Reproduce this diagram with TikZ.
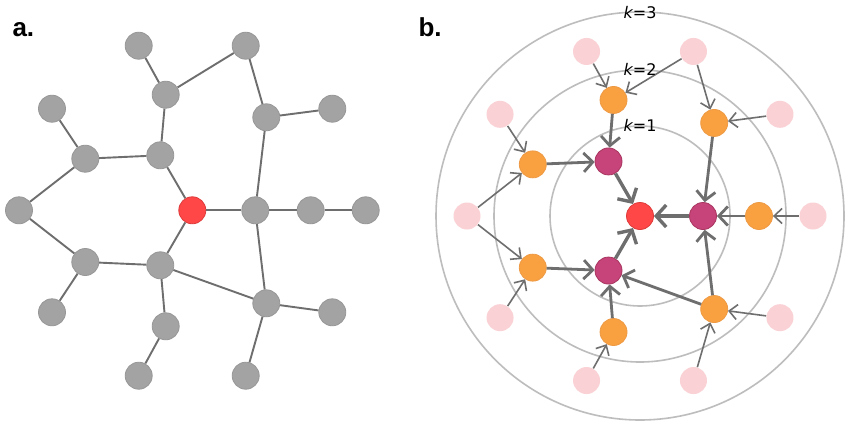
\documentclass[tikz,border=0pt]{standalone}
\usepackage{fontspec}
\setmainfont{DejaVu Sans}
\newfontfamily\arialfont{Liberation Sans}
\usetikzlibrary{arrows.meta}
\definecolor{gnode}{HTML}{A3A3A3}
\definecolor{gborder}{HTML}{979797}
\definecolor{edgec}{HTML}{6E6E6E}
\definecolor{rfill}{HTML}{FF4747}
\definecolor{rborder}{HTML}{DE3A3A}
\definecolor{pfill}{HTML}{C64479}
\definecolor{pborder}{HTML}{A8355F}
\definecolor{ofill}{HTML}{F9A140}
\definecolor{oborder}{HTML}{EE9A45}
\definecolor{kfill}{HTML}{FAD2D6}
\definecolor{ringc}{HTML}{BDBDBD}
\tikzset{
  vtx/.style={circle,minimum size=27pt,inner sep=0pt,line width=0.8pt},
  gray vtx/.style={vtx,fill=gnode,draw=gborder},
  red vtx/.style={vtx,fill=rfill,draw=rborder},
  pur vtx/.style={vtx,fill=pfill,draw=pborder},
  org vtx/.style={vtx,fill=ofill,draw=oborder},
  pink vtx/.style={vtx,fill=kfill},
  aedge/.style={draw=edgec,line width=1.9pt},
  thinarr/.style={draw=edgec,line width=1.6pt,-{Straight Barb[length=8pt,width=15pt]}},
  midarr/.style={draw=edgec,line width=2.8pt,-{Straight Barb[length=9pt,width=19pt]}},
  thickarr/.style={draw=edgec,line width=3.4pt,-{Straight Barb[length=10pt,width=22pt]}},
  ring/.style={draw=ringc,line width=1.6pt},
  klabel/.style={anchor=base,font=\fontsize{16}{16}\selectfont},
  panel/.style={anchor=base west,font=\arialfont\bfseries\fontsize{26}{26}\selectfont}
}
\begin{document}
\begin{tikzpicture}[x=1pt,y=-1pt]
\useasboundingbox[fill=white] (0,0) rectangle (850,426);
% ---------- panel a ----------
\node[panel] (la) at (9,36) {a.};
\node[red vtx] (a0) at (192.3,210.3) {};
\node[gray vtx] (a1) at (255.3,210.3) {};
\node[gray vtx] (a2) at (310.7,210.3) {};
\node[gray vtx] (a3) at (365.7,210.3) {};
\node[gray vtx] (a4) at (160.3,155.3) {};
\node[gray vtx] (a5) at (160.3,265.3) {};
\node[gray vtx] (a6) at (165.7,94.7) {};
\node[gray vtx] (a7) at (138.7,45.7) {};
\node[gray vtx] (a8) at (245.7,45.7) {};
\node[gray vtx] (a9) at (266.3,117.3) {};
\node[gray vtx] (a10) at (332.3,108.7) {};
\node[gray vtx] (a11) at (85.3,158.7) {};
\node[gray vtx] (a12) at (52,108.7) {};
\node[gray vtx] (a13) at (19,210.3) {};
\node[gray vtx] (a14) at (85.3,262) {};
\node[gray vtx] (a15) at (52,312.3) {};
\node[gray vtx] (a16) at (165.7,326.3) {};
\node[gray vtx] (a17) at (138.7,375.7) {};
\node[gray vtx] (a18) at (266.3,303.3) {};
\node[gray vtx] (a19) at (332.3,312.3) {};
\node[gray vtx] (a20) at (245.7,375.7) {};
\foreach \u/\v in {a0/a1,a0/a4,a0/a5,a1/a2,a2/a3,a1/a9,a1/a18,a9/a8,a9/a10,a8/a6,a6/a7,a6/a4,a4/a11,a11/a12,a11/a13,a13/a14,a14/a5,a14/a15,a5/a16,a16/a17,a5/a18,a18/a19,a18/a20}
  \draw[aedge] (\u) -- (\v);
% ---------- panel b ----------
\node[panel] (lb) at (415,36) {b.};
\coordinate (bc) at (640,216);
\draw[ring] (bc) circle[radius=90];
\draw[ring] (bc) circle[radius=146];
\draw[ring] (bc) circle[radius=204];
\node[red vtx] (c) at (bc) {};
\foreach \i in {0,1,2}
  \node[pur vtx] (u\i) at ({640+63*cos(120*\i)},{216-63*sin(120*\i)}) {};
\foreach \i in {0,...,6}
  \node[org vtx] (o\i) at ({640+119*cos(360/7*\i)},{216-119*sin(360/7*\i)}) {};
\foreach \i in {0,...,9}
  \node[pink vtx] (p\i) at ({640+173*cos(36*\i)},{216-173*sin(36*\i)}) {};
\foreach \u in {u0,u1,u2}
  \draw[thickarr] (\u) -- (c);
\foreach \u/\v in {o2/u1,o3/u1,o1/u0,o0/u0,o6/u0,o6/u2,o4/u2,o5/u2}
  \draw[midarr] (\u) -- (\v);
\foreach \u/\v in {p3/o2,p2/o2,p2/o1,p1/o1,p0/o0,p4/o3,p5/o3,p5/o4,p6/o4,p7/o5,p8/o6,p9/o6}
  \draw[thinarr] (\u) -- (\v);
\node[klabel] (k3) at (640,18.5) {\itshape k\upshape=3};
\node[klabel] (k2) at (640,75) {\itshape k\upshape=2};
\node[klabel] (k1) at (640,131.5) {\itshape k\upshape=1};
\end{tikzpicture}
\end{document}
